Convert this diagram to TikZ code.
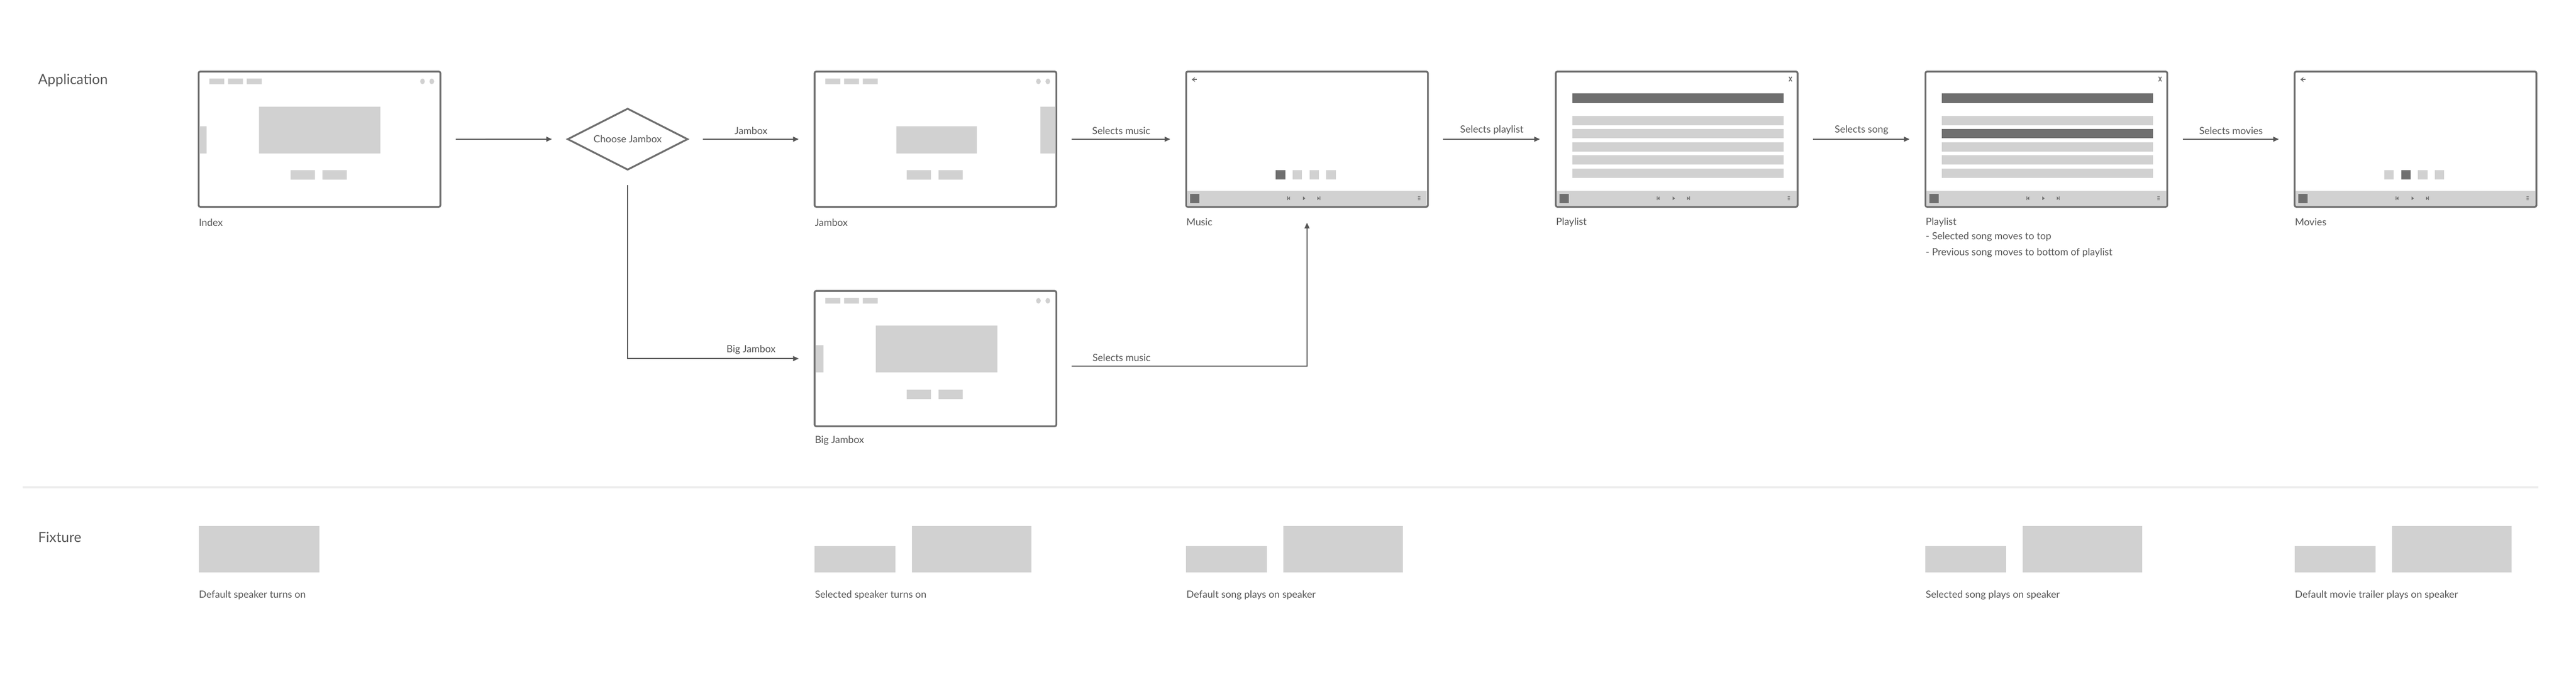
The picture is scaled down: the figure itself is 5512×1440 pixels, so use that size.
\documentclass[tikz,border=0pt]{standalone}
\usepackage{fontspec}
\setmainfont{Lato}
\usetikzlibrary{arrows.meta,shapes.geometric}

\definecolor{frameline}{HTML}{6F6F6F}
\definecolor{ph}{HTML}{D1D1D1}
\definecolor{dk}{HTML}{6F6F6F}
\definecolor{txt}{HTML}{555555}
\definecolor{rulecol}{HTML}{ECECEC}

% browser window furniture, in px from the frame's top left
\newcommand{\browserchrome}{%
  \fill[ph] (23,15) rectangle ++(32,12) (63,15) rectangle ++(32,12) (103,15) rectangle ++(32,12);
  \fill[ph] (479,21) ellipse (0.05cm and 0.06cm) (499,21) ellipse (0.05cm and 0.06cm);
  \fill[ph] (197,211) rectangle (249,231) (265,211) rectangle (317,231);}
\newcommand{\playerbar}{%
  \fill[ph] (2,255) rectangle (515,287);
  \fill[dk] (8,261) rectangle (28,281);
  \fill[dk] (216,267) rectangle (217.5,275) (218,271) -- (222,267) -- (222,275) -- cycle;
  \fill[dk] (250,267) -- (255,271) -- (250,275) -- cycle;
  \fill[dk] (281,267) -- (285,271) -- (281,275) -- cycle (285.5,267) rectangle (287,275);
  \fill[dk] (496,266.5) rectangle (501,268) (496,270) rectangle (501,271.5) (496,273.5) rectangle (501,275);}
\newcommand{\backicon}{\draw[dk,line width=0.5pt,-{Stealth[length=2pt,width=3pt]}] (23,17) -- (12,17);}
\newcommand{\closeicon}{\draw[dk,line width=0.5pt] (499,11) -- (505,21) (505,11) -- (499,21);}
\newcommand{\pager}[1]{%
  \foreach \i in {1,...,4}{%
    \ifnum\i=#1\relax\def\pc{dk}\else\def\pc{ph}\fi
    \fill[\pc] ({156+36*\i},211) rectangle ++(20,20);}}
\newcommand{\songlist}[1]{%
  \fill[dk] (35,47) rectangle (487,67);
  \foreach \i in {1,...,5}{%
    \ifnum\i=#1\relax\def\pc{dk}\else\def\pc{ph}\fi
    \fill[\pc] (35,{67+28*\i}) rectangle (487,{87+28*\i});}}

\begin{document}
\begin{tikzpicture}[x=0.01cm,y=-0.01cm,
    every node/.style={text=txt,font=\fontsize{6}{7}\selectfont},
    frame/.style={draw=frameline,line width=1.1pt,rounded corners=1pt,minimum width=5.17cm,
      minimum height=2.89cm,anchor=north west,inner sep=0pt,outer sep=0pt},
    choice/.style={diamond,aspect=1.86,draw=frameline,line width=1.1pt,minimum width=2.56cm,
      minimum height=1.3cm,inner sep=0pt,outer sep=0pt},
    caption/.style={anchor=west,inner sep=0pt},
    section/.style={anchor=west,inner sep=0pt,font=\fontsize{8.5}{10}\selectfont},
    speaker/.style={fill=ph,anchor=south west,inner sep=0pt,outer sep=0pt},
    flow/.style={draw=txt,line width=0.57pt,-{Triangle[length=3.4pt,width=3pt]},
      shorten <=0.33cm,shorten >=0.34cm},
    lbl/.style={above,inner sep=2.5pt}]

  \useasboundingbox (0,0) rectangle (5512,1440);

  \node[section] (app) at (81,172) {Application};
  \node[section] (fix) at (81,1148) {Fixture};
  \draw[rulecol,line width=1.1pt] (49,1042) -- (5431,1042);

  % screens
  \node[frame] (index)     at (425,153)  {};
  \node[choice] (choose)   at (1343,297.5) {Choose Jambox};
  \node[frame] (jambox)    at (1743,153) {};
  \node[frame] (bigjambox) at (1743,622) {};
  \node[frame] (music)     at (2538,153) {};
  \node[frame] (playlist)  at (3329,153) {};
  \node[frame] (reorder)   at (4120,153) {};
  \node[frame] (movies)    at (4910,153) {};

  \begin{scope}[shift={(index.north west)}]
    \browserchrome
    \fill[ph] (129,75) rectangle (389,175) (2,117) rectangle (17,175);
  \end{scope}
  \begin{scope}[shift={(jambox.north west)}]
    \browserchrome
    \fill[ph] (175,117) rectangle (347,175) (483,75) rectangle (515,175);
  \end{scope}
  \begin{scope}[shift={(bigjambox.north west)}]
    \browserchrome
    \fill[ph] (131,74) rectangle (391,174) (2,116) rectangle (19,174);
  \end{scope}
  \begin{scope}[shift={(music.north west)}]
    \backicon \pager{1} \playerbar
  \end{scope}
  \begin{scope}[shift={(playlist.north west)}]
    \closeicon \songlist{0} \playerbar
  \end{scope}
  \begin{scope}[shift={(reorder.north west)}]
    \closeicon \songlist{2} \playerbar
  \end{scope}
  \begin{scope}[shift={(movies.north west)}]
    \backicon \pager{2} \playerbar
  \end{scope}

  % captions
  \node[caption] (indexcap)  at ([yshift=-0.33cm]index.south west) {Index};
  \node[caption] (jamboxcap) at ([yshift=-0.33cm]jambox.south west) {Jambox};
  \node[caption] (bigcap)    at ([yshift=-0.31cm]bigjambox.south west) {Big Jambox};
  \node[caption] (musiccap)  at ([yshift=-0.33cm]music.south west) {Music};
  \node[caption] (listcap)   at ([yshift=-0.33cm]playlist.south west) {Playlist};
  \node[caption] (reordcap)  at ([yshift=-0.33cm]reorder.south west) {Playlist};
  \node[caption] (noteone)   at ([yshift=-0.31cm]reordcap.west) {- Selected song moves to top};
  \node[caption] (notetwo)   at ([yshift=-0.34cm]noteone.west) {- Previous song moves to bottom of playlist};
  \node[caption] (moviescap) at ([yshift=-0.33cm]movies.south west) {Movies};

  % flow
  \path[flow] (index.east) -- (choose.west);
  \path[flow] (choose.east) -- node[lbl] {Jambox} (jambox.west);
  \path[flow] (choose.south) |- node[lbl,pos=0.83] {Big Jambox} (bigjambox.west);
  \path[flow] (jambox.east) -- node[lbl] {Selects music} (music.west);
  \path[flow] ([yshift=-0.16cm]bigjambox.east) -| node[lbl,pos=0.13] {Selects music} (music.south);
  \path[flow] (music.east) -- node[lbl] {Selects playlist} (playlist.west);
  \path[flow] (playlist.east) -- node[lbl] {Selects song} (reorder.west);
  \path[flow] (reorder.east) -- node[lbl] {Selects movies} (movies.west);

  % fixture
  \node[speaker,minimum width=2.58cm,minimum height=1cm] (idxspk) at (425,1224) {};
  \foreach \n/\x in {jam/1743,mus/2538,song/4120,mov/4910}{
    \node[speaker,minimum width=1.73cm,minimum height=0.57cm] (\n small) at (\x,1224) {};
    \node[speaker,minimum width=2.56cm,minimum height=1cm] (\n large) at (\x+208,1224) {};
  }
  \node[caption] at (425,1272)  {Default speaker turns on};
  \node[caption] at (1743,1272) {Selected speaker turns on};
  \node[caption] at (2538,1272) {Default song plays on speaker};
  \node[caption] at (4120,1272) {Selected song plays on speaker};
  \node[caption] at (4910,1272) {Default movie trailer plays on speaker};
\end{tikzpicture}
\end{document}
